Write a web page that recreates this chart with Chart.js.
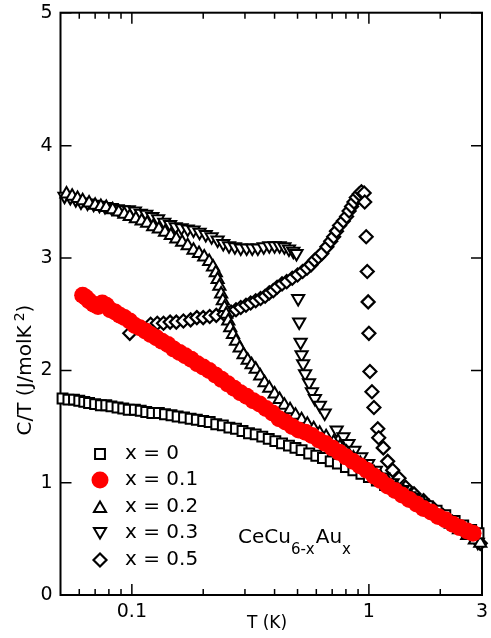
<!DOCTYPE html>
<html><head><meta charset="utf-8">
<script src="https://cdn.jsdelivr.net/npm/chart.js@4/dist/chart.umd.min.js"></script>
<style>html,body{margin:0;padding:0;background:#fff;}#wrap{width:491px;height:638px;position:relative;}</style>
</head><body><div id="wrap"><canvas id="c" width="491" height="638"></canvas></div>
<script>
// ---- axis ticks ----
const xTickValues = [0.1, 1, 3];
const xTickLabels = ['0.1', '1', '3'];
const xMinorTicks = [0.06, 0.07, 0.08, 0.09, 0.2, 0.3, 0.4, 0.5, 0.6, 0.7, 0.8, 0.9, 2];
const yTickValues = [0, 1, 2, 3, 4, 5.185];
const yTickLabels = ['0', '1', '2', '3', '4', '5'];
const seriesLabels = ['x = 0', 'x = 0.1', 'x = 0.2', 'x = 0.3', 'x = 0.5'];

// ---- x = 0 (squares) ----
const T0 = [0.051,0.054,0.057,0.06,0.063,0.066,0.07,0.074,0.078,0.082,0.087,0.092,0.097,0.103,0.109,0.115,0.122,0.13,0.138,0.147,0.156,0.166,0.177,0.188,0.2,0.213,0.227,0.242,0.258,0.275,0.293,0.312,0.333,0.355,0.378,0.403,0.43,0.46,0.49,0.52,0.56,0.6,0.64,0.69,0.74,0.8,0.86,0.93,1.0,1.08,1.17,1.27,1.38,1.5,1.63,1.77,1.93,2.1,2.3,2.5,2.7,2.9];
const C0 = [1.75,1.74,1.74,1.73,1.72,1.71,1.70,1.69,1.69,1.68,1.67,1.66,1.65,1.65,1.64,1.63,1.62,1.62,1.61,1.60,1.59,1.58,1.57,1.56,1.55,1.54,1.52,1.51,1.49,1.48,1.46,1.44,1.43,1.41,1.39,1.37,1.35,1.33,1.31,1.29,1.26,1.24,1.22,1.19,1.17,1.14,1.11,1.08,1.05,1.02,0.98,0.95,0.91,0.87,0.83,0.79,0.75,0.71,0.66,0.62,0.58,0.55];

// ---- x = 0.1 (red circles) ----
const T1 = [0.062,0.064,0.066,0.069,0.072,0.075,0.078,0.081,0.085,0.089,0.093,0.098,0.103,0.108,0.114,0.12,0.127,0.134,0.142,0.15,0.159,0.168,0.178,0.189,0.2,0.212,0.225,0.239,0.254,0.27,0.287,0.305,0.325,0.346,0.368,0.392,0.418,0.445,0.475,0.505,0.54,0.575,0.615,0.655,0.7,0.75,0.8,0.855,0.915,0.98,1.05,1.12,1.2,1.29,1.38,1.48,1.59,1.7,1.83,1.96,2.1,2.26,2.42,2.6,2.75];
const C1 = [2.67,2.65,2.62,2.59,2.57,2.60,2.58,2.54,2.52,2.49,2.47,2.44,2.40,2.38,2.35,2.32,2.29,2.26,2.23,2.19,2.16,2.13,2.10,2.06,2.03,2.00,1.96,1.92,1.88,1.84,1.80,1.77,1.73,1.70,1.66,1.62,1.57,1.54,1.50,1.47,1.45,1.42,1.38,1.35,1.31,1.27,1.23,1.19,1.15,1.11,1.06,1.02,0.97,0.93,0.89,0.85,0.81,0.77,0.74,0.70,0.67,0.63,0.60,0.57,0.55];

// ---- x = 0.2 (up triangles) ----
const T2 = [0.053,0.056,0.059,0.062,0.066,0.07,0.074,0.078,0.083,0.088,0.093,0.098,0.104,0.11,0.116,0.123,0.13,0.138,0.146,0.154,0.163,0.172,0.182,0.192,0.202,0.212,0.22,0.226,0.23,0.234,0.238,0.242,0.246,0.25,0.255,0.26,0.267,0.275,0.285,0.296,0.308,0.32,0.333,0.348,0.363,0.38,0.4,0.42,0.44,0.465,0.49,0.52,0.55,0.585,0.62,0.66,0.71,0.755,0.805,0.86,0.92,0.98,1.05,1.12,1.2,1.3,1.4,1.5,1.62,1.75,1.9,2.05,2.22,2.4,2.6,2.8,2.95];
const C2 = [3.57,3.55,3.53,3.51,3.49,3.47,3.46,3.45,3.43,3.41,3.39,3.37,3.35,3.33,3.31,3.28,3.26,3.23,3.20,3.17,3.14,3.11,3.07,3.04,3.01,2.97,2.92,2.87,2.81,2.75,2.68,2.62,2.56,2.50,2.44,2.38,2.32,2.26,2.20,2.14,2.09,2.05,2.01,1.95,1.89,1.84,1.79,1.74,1.69,1.65,1.60,1.56,1.52,1.48,1.44,1.41,1.36,1.32,1.27,1.22,1.17,1.13,1.09,1.05,1.01,0.96,0.92,0.88,0.83,0.78,0.73,0.68,0.63,0.58,0.53,0.49,0.46];

// ---- x = 0.3 (down triangles) ----
const T3 = [0.052,0.055,0.058,0.061,0.065,0.069,0.073,0.077,0.082,0.087,0.092,0.097,0.103,0.109,0.115,0.122,0.129,0.137,0.145,0.153,0.162,0.172,0.182,0.193,0.205,0.217,0.23,0.243,0.257,0.272,0.288,0.305,0.322,0.34,0.36,0.38,0.4,0.42,0.44,0.46,0.48,0.495,0.503,0.508,0.515,0.52,0.528,0.538,0.559,0.575,0.592,0.621,0.651,0.731,0.781,0.82,0.868,0.928,0.993,1.07,1.15,1.26,1.39,1.53,1.68,1.85,2.04,2.24,2.47,2.72,2.88];
const C3 = [3.55,3.54,3.52,3.50,3.49,3.48,3.47,3.46,3.45,3.44,3.43,3.43,3.42,3.40,3.39,3.37,3.35,3.32,3.30,3.28,3.27,3.26,3.25,3.23,3.21,3.19,3.16,3.13,3.11,3.10,3.09,3.09,3.09,3.09,3.10,3.11,3.11,3.11,3.10,3.08,3.06,3.04,2.64,2.43,2.25,2.14,2.06,1.97,1.89,1.81,1.75,1.69,1.62,1.47,1.41,1.35,1.29,1.23,1.17,1.11,1.05,1.00,0.94,0.87,0.82,0.76,0.70,0.64,0.58,0.53,0.47];

// ---- x = 0.5 (diamonds) ----
const T5 = [0.098,0.12,0.128,0.136,0.145,0.154,0.165,0.177,0.188,0.2,0.213,0.227,0.245,0.262,0.275,0.288,0.303,0.317,0.333,0.349,0.365,0.38,0.395,0.41,0.43,0.45,0.475,0.5,0.525,0.548,0.57,0.59,0.612,0.633,0.665,0.69,0.71,0.73,0.752,0.78,0.805,0.825,0.845,0.865,0.885,0.91,0.93,0.955,0.96,0.974,0.984,0.993,1.0,1.01,1.03,1.05,1.09,1.10,1.15,1.20,1.26,1.34,1.43,1.55,1.7,1.87,2.05,2.25,2.48,2.72,2.95];
const C5 = [2.33,2.41,2.42,2.42,2.43,2.43,2.44,2.45,2.47,2.47,2.48,2.49,2.50,2.52,2.54,2.56,2.58,2.60,2.62,2.64,2.66,2.69,2.71,2.74,2.77,2.79,2.82,2.85,2.88,2.91,2.94,2.98,3.01,3.04,3.10,3.15,3.19,3.24,3.29,3.33,3.37,3.42,3.46,3.50,3.54,3.57,3.59,3.58,3.50,3.19,2.88,2.61,2.33,1.99,1.81,1.67,1.48,1.40,1.31,1.19,1.11,1.04,0.96,0.90,0.84,0.77,0.71,0.65,0.59,0.53,0.46];

const FONT = "'DejaVu Sans', sans-serif";
const pts = (T, C) => T.map((t, i) => ({x: t, y: C[i]}));

const styles = [
  {pointStyle: 'rect', rotation: 0, radius: 7, bg: '#fff', border: '#000', bw: 2, order: 1},
  {pointStyle: 'circle', rotation: 0, radius: 8.5, bg: '#ff0000', border: '#ff0000', bw: 0, order: 0},
  {pointStyle: 'triangle', rotation: 0, radius: 7, bg: '#fff', border: '#000', bw: 2, order: 2},
  {pointStyle: 'triangle', rotation: 180, radius: 7, bg: '#fff', border: '#000', bw: 2, order: 3},
  {pointStyle: 'rectRot', rotation: 0, radius: 6.5, bg: '#fff', border: '#000', bw: 2.2, order: 4}
];
const allData = [pts(T0, C0), pts(T1, C1), pts(T2, C2), pts(T3, C3), pts(T5, C5)];

const datasets = allData.map((d, i) => ({
  label: seriesLabels[i],
  data: d,
  showLine: false,
  pointStyle: styles[i].pointStyle,
  pointRotation: styles[i].rotation,
  pointRadius: styles[i].radius,
  pointBackgroundColor: styles[i].bg,
  pointBorderColor: styles[i].border,
  pointBorderWidth: styles[i].bw,
  order: styles[i].order,
  clip: false
}));

const framePlugin = {
  id: 'frame',
  beforeDatasetsDraw(chart) {
    const {ctx, chartArea: a, scales: {x, y}} = chart;
    ctx.save();
    ctx.strokeStyle = '#000';
    ctx.lineWidth = 2;
    ctx.strokeRect(a.left, a.top, a.right - a.left, a.bottom - a.top);
    ctx.lineWidth = 1.5;
    ctx.beginPath();
    const xt = (v, len) => {
      const px = x.getPixelForValue(v);
      ctx.moveTo(px, a.bottom); ctx.lineTo(px, a.bottom - len);
      ctx.moveTo(px, a.top); ctx.lineTo(px, a.top + len);
    };
    xMinorTicks.forEach(v => xt(v, 6));
    xTickValues.forEach(v => xt(v, 11));
    yTickValues.forEach(v => {
      const py = y.getPixelForValue(v);
      ctx.moveTo(a.left, py); ctx.lineTo(a.left + 11, py);
      ctx.moveTo(a.right, py); ctx.lineTo(a.right - 11, py);
    });
    ctx.stroke();
    ctx.restore();
  },
  afterDraw(chart) {
    const {ctx} = chart;
    ctx.save();
    ctx.fillStyle = '#000';
    // legend
    const rowY = [454, 480, 507, 533, 560];
    styles.forEach((s, i) => {
      ctx.fillStyle = s.bg; ctx.strokeStyle = s.border; ctx.lineWidth = s.bw;
      Chart.helpers.drawPoint(ctx, {pointStyle: s.pointStyle, rotation: s.rotation, radius: s.radius, borderWidth: s.bw}, 100, rowY[i] + (s.pointStyle === 'triangle' ? (s.rotation ? -1.5 : 1.5) : 0));
      ctx.fillStyle = '#000';
      ctx.font = '20px ' + FONT;
      ctx.textBaseline = 'middle';
      ctx.textAlign = 'left';
      ctx.fillText(seriesLabels[i], 125, rowY[i]);
    });
    // compound label CeCu6-xAux
    ctx.textBaseline = 'alphabetic';
    let cx = 238;
    const parts = [['CeCu', 20, 543], ['6-x', 15, 554], ['Au', 20, 543], ['x', 15, 554]];
    parts.forEach(([t, sz, by], k) => {
      ctx.font = sz + 'px ' + FONT;
      ctx.fillText(t, cx, by);
      cx += ctx.measureText(t).width + (k === 1 ? 1 : 0);
    });
    // x title
    ctx.font = '17px ' + FONT;
    ctx.textAlign = 'center';
    ctx.textBaseline = 'middle';
    ctx.fillText('T (K)', 267, 624);
    // y title
    ctx.translate(24, 370);
    ctx.rotate(-Math.PI / 2);
    ctx.font = '20px ' + FONT;
    const p1 = 'C/T (J/molK', p2 = '2', p3 = ')';
    const w1 = ctx.measureText(p1).width, w3 = ctx.measureText(p3).width;
    ctx.font = '14px ' + FONT;
    const w2 = ctx.measureText(p2).width;
    const total = w1 + 4 + w2 + w3;
    let tx = -total / 2;
    ctx.textAlign = 'left';
    ctx.textBaseline = 'alphabetic';
    ctx.font = '20px ' + FONT;
    ctx.fillText(p1, tx, 7); tx += w1 + 4;
    ctx.font = '14px ' + FONT;
    ctx.fillText(p2, tx, 0); tx += w2;
    ctx.font = '20px ' + FONT;
    ctx.fillText(p3, tx, 7);
    ctx.restore();
  }
};

new Chart(document.getElementById('c'), {
  type: 'scatter',
  data: {datasets},
  options: {
    responsive: false,
    animation: false,
    events: [],
    layout: {padding: {top: 12.7, right: 4, bottom: 0, left: 0}},
    plugins: {legend: {display: false}, tooltip: {enabled: false}},
    scales: {
      x: {
        type: 'logarithmic', min: 0.05, max: 3,
        afterBuildTicks: s => { s.ticks = xTickValues.map(v => ({value: v})); },
        afterFit: s => { s.height = 43; s.paddingLeft = 0; s.paddingRight = 0; },
        ticks: {callback: (v, i) => xTickLabels[i], font: {family: FONT, size: 19}, color: '#000', padding: 6, maxRotation: 0, autoSkip: false},
        grid: {display: false, drawTicks: false},
        border: {display: false}
      },
      y: {
        type: 'linear', min: 0, max: 5.185,
        afterBuildTicks: s => { s.ticks = yTickValues.map(v => ({value: v})); },
        afterFit: s => { s.width = 60.5; s.paddingTop = 0; s.paddingBottom = 0; },
        ticks: {callback: (v, i) => yTickLabels[i], font: {family: FONT, size: 19}, color: '#000', padding: 8, autoSkip: false},
        grid: {display: false, drawTicks: false},
        border: {display: false}
      }
    }
  },
  plugins: [framePlugin]
});
</script>
</body></html>
